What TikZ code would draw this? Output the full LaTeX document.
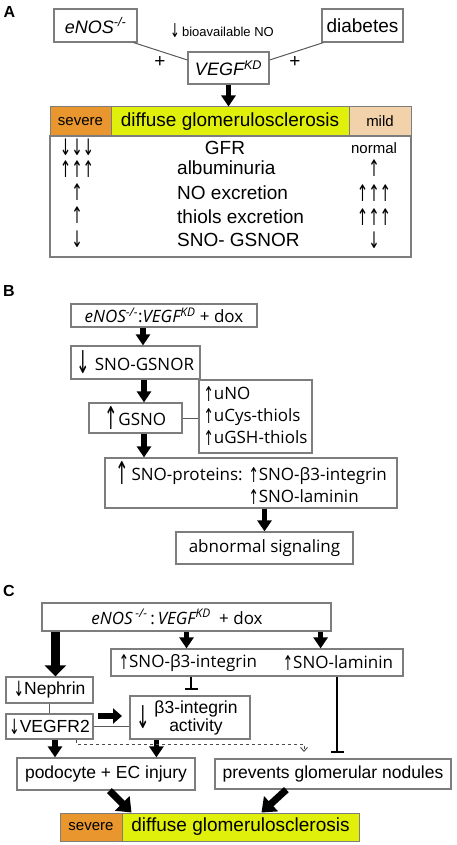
\documentclass[tikz,border=0pt]{standalone}
\usepackage{fontspec}
\usepackage{graphicx}
\setmainfont{Liberation Sans}
\newfontfamily\myriad{Open Sans}
\newfontfamily\arrfont{DejaVu Sans}
\usetikzlibrary{arrows.meta}

\definecolor{sevorange}{RGB}{232,150,45}
\definecolor{difflime}{RGB}{224,240,10}
\definecolor{mildpeach}{RGB}{242,210,170}
\definecolor{boxgray}{RGB}{125,125,125}

\newcommand{\arrUp}{{\arrfont\raisebox{-0.12em}{\scalebox{0.72}[1.2]{↑}}}}
\newcommand{\arrDn}{{\arrfont\raisebox{-0.12em}{\scalebox{0.72}[1.2]{↓}}}}
\newcommand{\bigUp}{{\arrfont\raisebox{-0.22em}{\scalebox{0.95}[1.85]{↑}}}}
\newcommand{\bigDn}{{\arrfont\raisebox{-0.22em}{\scalebox{0.95}[1.85]{↓}}}}
\newcommand{\fsz}[1]{\fontsize{#1}{#1}\selectfont}

\begin{document}
\begin{tikzpicture}[x=1pt,y=-1pt,
	box/.style={draw=boxgray,line width=1.2pt,inner sep=0pt,align=center},
	colbar/.style={draw=boxgray,line width=1pt,inner sep=0pt,minimum height=29pt},
	fat/.style={line width=5.5pt,-{Triangle[length=11pt,width=14pt]}},
	bigfat/.style={line width=8.5pt,-{Triangle[length=11pt,width=21pt]}},
	diag/.style={line width=7pt,-{Triangle[length=13pt,width=20pt]}},
	link/.style={draw=black!65,line width=1pt},
	block/.style={line width=2pt,-{Bar[width=13pt]}},
	panel/.style={font=\bfseries\fsz{16}},
	txtA/.style={font=\fsz{19},inner sep=0pt},
	txtB/.style={font=\myriad\fsz{17}},
	txtC/.style={font=\fsz{17.5}}]
	\useasboundingbox (0,0) rectangle (457,845);

	%panel A
	\node[panel] (labA) at (9.5,11.5) {A};
	\node[box,minimum width=83pt,minimum height=33pt,font=\itshape\fsz{18}] (enos) at (95.5,25.5) {eNOS\textsuperscript{-/-}};
	\node[box,minimum width=81pt,minimum height=33pt,txtA] (diab) at (362.5,25.5) {diabetes};
	\node[box,minimum width=81pt,minimum height=32pt,font=\itshape\fsz{18}] (vegf) at (228.5,68) {VEGF\textsuperscript{KD}};
	\node[font=\fsz{13}] (bioNO) at (222,31) {{\fsz{16}\arrDn}\,bioavailable NO};
	\draw[link] ([xshift=-4pt]enos.south east) -- ([yshift=8pt]vegf.west); %eNOS to VEGF
	\draw[link] ([xshift=2pt]diab.south west) -- ([yshift=8pt]vegf.east); %diabetes to VEGF
	\node[txtA] (plusL) at (160,62) {+};
	\node[txtA] (plusR) at (295,62) {+};

	%severity bar A
	\node[colbar,fill=sevorange,minimum width=61pt,font=\fsz{15}] (sevA) at (80.5,121.5) {severe};
	\node[colbar,fill=difflime,minimum width=238pt,font=\fsz{19}] (difA) at (230,121.5) {diffuse glomerulosclerosis};
	\node[colbar,fill=mildpeach,minimum width=62pt,font=\fsz{15}] (mildA) at (380,121.5) {mild};
	\draw[fat] (vegf.south) -- (vegf.south |- difA.north);

	%table A
	\node[box,minimum width=361pt,minimum height=121pt] (tab) at (230.5,196.5) {};
	\node[txtA] (gfrL) at (77,147.5) {\arrDn\arrDn\arrDn};
	\node[txtA] (gfrM) at (225,148) {GFR};
	\node[txtA,font=\fsz{15}] (gfrR) at (374,148) {normal};
	\node[txtA] (albL) at (77,169.5) {\arrUp\arrUp\arrUp};
	\node[txtA,anchor=west] (albM) at (177,168) {albuminuria};
	\node[txtA] (albR) at (374,168) {\arrUp};
	\node[txtA] (noL) at (77,192) {\arrUp};
	\node[txtA,anchor=west] (noM) at (177,193) {NO excretion};
	\node[txtA] (noR) at (374,193) {\arrUp\arrUp\arrUp};
	\node[txtA] (thL) at (77,215) {\arrUp};
	\node[txtA,anchor=west] (thM) at (177,217) {thiols excretion};
	\node[txtA] (thR) at (374,217) {\arrUp\arrUp\arrUp};
	\node[txtA] (snoL) at (77,239) {\arrDn};
	\node[txtA,anchor=west] (snoM) at (177,240) {SNO- GSNOR};
	\node[txtA] (snoR) at (374,240) {\arrDn};

	%panel B
	\node[panel] (labB) at (9,291) {B};
	\node[box,minimum width=186pt,minimum height=23pt,txtB] (bmouse) at (164,315.5) {\textit{eNOS\textsuperscript{-/-}}:\textit{VEGF\textsuperscript{KD}} + dox};
	\node[box,minimum width=129pt,minimum height=33pt,txtB] (gsnor) at (135.5,362.5) {\bigDn\ SNO-GSNOR};
	\node[box,minimum width=93pt,minimum height=30pt,txtB] (gsno) at (135.5,418) {\bigUp GSNO};
	\node[box,minimum width=113pt,minimum height=73pt,font=\myriad\fontsize{17}{22}\selectfont,align=left] (urine) at (255.5,416.5) {\arrUp uNO\\\arrUp uCys-thiols\\\arrUp uGSH-thiols};
	\node[box,minimum width=292pt,minimum height=50pt,font=\myriad\fontsize{17}{22}\selectfont,align=left] (snoprot) at (251,483) {\bigUp\,SNO-proteins: \arrUp SNO-β3-integrin\\\hphantom{\bigUp\,SNO-proteins: }\arrUp SNO-laminin};
	\node[box,minimum width=177pt,minimum height=32pt,txtB] (signal) at (264.5,548) {abnormal signaling};
	\draw[fat] ([xshift=-21pt]bmouse.south) coordinate (s1) -- (s1 |- gsnor.north);
	\draw[fat] ([xshift=8.5pt]gsnor.south) coordinate (s2) -- (s2 |- gsno.north);
	\draw[fat] ([xshift=8.5pt]gsno.south) coordinate (s3) -- (s3 |- snoprot.north);
	\draw[fat] (signal.north |- snoprot.south) -- (signal.north);
	\draw[link] (gsno.east) -- (gsno.east -| urine.west);

	%panel C
	\node[panel] (labC) at (9,591) {C};
	\node[box,minimum width=289pt,minimum height=28pt,txtB] (cmouse) at (186.5,617) {\textit{eNOS\,\textsuperscript{-/-}}\,:\,\textit{VEGF\textsuperscript{KD}}\enspace + dox\hspace*{19pt}};
	\node[box,minimum width=292pt,minimum height=27pt] (csno) at (257,662.5) {};
	\node[txtB] (cintg) at (188,663) {\arrUp SNO-β3-integrin};
	\node[txtB] (clam) at (338,663) {\arrUp SNO-laminin};
	\node[box,minimum width=87pt,minimum height=26pt,txtC] (neph) at (49.5,690) {\arrDn Nephrin};
	\node[box,minimum width=87pt,minimum height=25pt,txtC] (vegfr) at (49.5,726.5) {\arrDn VEGFR2};
	\node[box,minimum width=120pt,minimum height=43pt] (act) at (190,717.5) {};
	\node[font=\fsz{17},inner sep=0pt] (actarr) at (143,717) {\bigDn};
	\node[txtC,font=\fontsize{17.5}{18}\selectfont,align=center] (acttxt) at (196,717.5) {β3-integrin\\activity};
	\node[box,minimum width=178pt,minimum height=32pt,txtC] (podo) at (106,774) {podocyte + EC injury};
	\node[box,minimum width=236pt,minimum height=30pt,txtC] (prev) at (333,774) {prevents glomerular nodules};
	\node[colbar,fill=sevorange,minimum width=62pt,minimum height=28pt,font=\fsz{15}] (sevC) at (91,827) {severe};
	\node[colbar,fill=difflime,minimum width=237pt,minimum height=28pt,font=\fsz{19}] (difC) at (240.5,827) {diffuse glomerulosclerosis};

	%arrows C
	\draw[bigfat] ([xshift=14pt]cmouse.south west) coordinate (c1) -- (c1 |- neph.north);
	\draw[fat] (cmouse.south) -- (cmouse.south |- csno.north);
	\draw[fat] ([xshift=-11pt]cmouse.south east) coordinate (c2) -- (c2 |- csno.north);
	\draw[block,shorten >=5pt] ([xshift=81pt]csno.south west) coordinate (t1) -- (t1 |- act.north); %inhibits activity
	\draw[block,shorten >=5pt] ([xshift=227pt]csno.south west) coordinate (t2) -- (t2 |- prev.north); %inhibits nodules
	\draw[link] (neph.south) -- (vegfr.north);
	\draw[link] (vegfr.east) -- (vegfr.east -| act.west);
	\coordinate (fatA) at (98,716);
	\coordinate (fatB) at (122,716);
	\draw[line width=6pt,-{Triangle[length=9pt,width=15pt]}] (fatA) -- (fatB);
	\draw[fat] ([xshift=5.5pt]vegfr.south) coordinate (c3) -- (c3 |- podo.north);
	\draw[fat] ([xshift=27pt]act.south west) coordinate (c4) -- (c4 |- podo.north);
	\coordinate (dashend) at (304,752);
	\draw[dashed,black!70,line width=0.9pt,-{Straight Barb[length=4pt,width=7pt]}] ([xshift=71pt]vegfr.south west) |- ([yshift=8pt]dashend) -- (dashend);
	\draw[diag] ([xshift=93pt]podo.south west) -- ([xshift=10pt]difC.north west);
	\draw[diag] ([xshift=72pt]prev.south west) -- ([xshift=140pt]difC.north west);
\end{tikzpicture}
\end{document}
